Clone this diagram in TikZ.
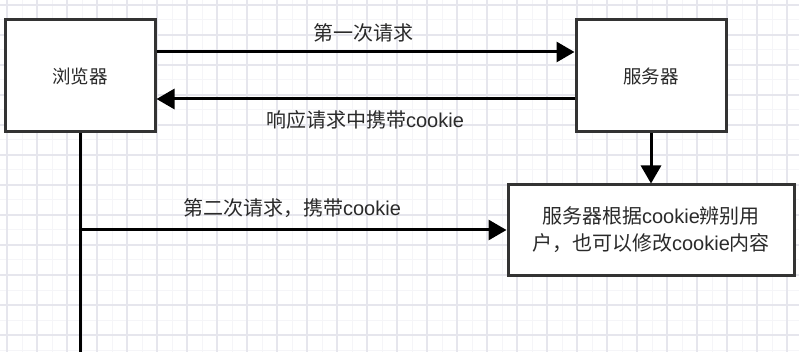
\documentclass[tikz,border=0pt]{standalone}
\usepackage{fontspec}
\setmainfont{Noto Sans CJK SC}
\newfontfamily\latinpart{Liberation Sans}
\newcommand{\ck}{{\latinpart cookie}}
\usetikzlibrary{arrows.meta}
\definecolor{gridminor}{HTML}{F5F5F8}
\definecolor{gridmajor}{HTML}{E6E6ED}
\definecolor{boxline}{HTML}{333333}
\definecolor{txt}{HTML}{2A2A2A}
\tikzset{
  box/.style={draw=boxline, line width=3pt, fill=white, inner sep=0pt, align=center, text=txt},
  conn/.style={draw=black, line width=3pt, -{Triangle[length=18pt,width=20pt]}},
  lbl/.style={text=txt, font=\fontsize{20}{22}\selectfont, inner sep=0pt},
}
\begin{document}
\begin{tikzpicture}[x=1pt,y=-1pt]
\useasboundingbox (0,0) rectangle (799,352);
\fill[white] (0,0) rectangle (799,352);
% grid
\foreach \x in {-8,7,...,799} \draw[gridminor, line width=1pt] (\x,0) -- (\x,352);
\foreach \y in {-10,5,...,352} \draw[gridminor, line width=1pt] (0,\y) -- (799,\y);
\foreach \x in {7,37,...,799} \draw[gridmajor, line width=1.2pt] (\x,0) -- (\x,352);
\foreach \y in {5,35,...,352} \draw[gridmajor, line width=1.2pt] (0,\y) -- (799,\y);
% boxes
\node[box, minimum width=150pt, minimum height=112pt, font=\fontsize{18.5}{20}\selectfont] (browser) at (80,76) {浏览器};
\node[box, minimum width=150pt, minimum height=112pt, font=\fontsize{18.5}{20}\selectfont] (server) at (651,76) {服务器};
\node[box, minimum width=286pt, minimum height=90pt, font=\fontsize{20}{27}\selectfont] (result) at (651,230) {服务器根据\ck 辨别用\\户，也可以修改\ck 内容};
% connectors
\draw[conn] (browser.east |- 0,52) -- (server.west |- 0,52);
\draw[conn] (server.west |- 0,99) -- (browser.east |- 0,99);
\draw[conn] (server.south) -- (result.north);
\coordinate (bottom) at (80,352);
\coordinate (turn) at (80,230);
\draw[draw=black, line width=3pt] (browser.south) -- (bottom);
\draw[conn] (turn) -- (result.west);
% labels
\node[lbl] (l1) at (363,33) {第一次请求};
\node[lbl] (l2) at (365,120) {响应请求中携带\ck};
\node[lbl] (l3) at (292,208) {第二次请求，携带\ck};
\end{tikzpicture}
\end{document}
